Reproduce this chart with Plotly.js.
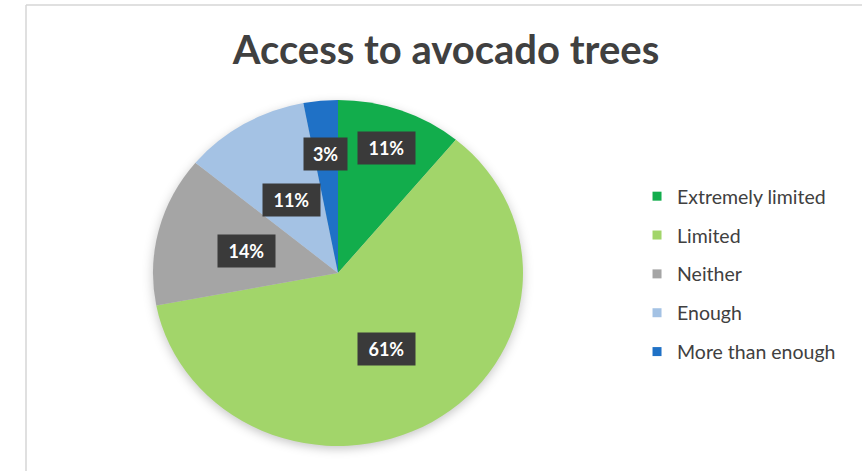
<!DOCTYPE html>
<html>
<head>
<meta charset="utf-8">
<script src="https://cdn.plot.ly/plotly-3.0.1.min.js"></script>
<style>
  html, body { margin: 0; padding: 0; background: #ffffff; }
  #chart { width: 862px; height: 471px; }
</style>
</head>
<body>
<div id="chart"></div>
<script>
// ---- data ----
const categories = ['Extremely limited', 'Limited', 'Neither', 'Enough', 'More than enough'];
const values = [11, 61, 14, 11, 3];
const percentLabels = ['11%', '61%', '14%', '11%', '3%'];
const sliceColors = ['#12AD4C', '#A2D56A', '#A5A5A5', '#A4C2E4', '#1F71C6'];

// ---- style / layout constants ----
const W = 862, H = 471;
const CX = 338, CY = 273;          // pie centre in px
const RY = 173, RX = 185;          // vertical / horizontal radius in px
const labelRadius = [0.77, 0.51, 0.51, 0.49, 0.69];  // label placement factor per slice
const font = 'Lato, "Open Sans", sans-serif';

const pieDomainX = [(CX - RY) / W, (CX + RY) / W];
const pieDomainY = [(H - CY - RY) / H, (H - CY + RY) / H];

const traces = [{
  type: 'pie',
  values: values,
  labels: categories,
  marker: { colors: sliceColors, line: { width: 0 } },
  sort: false,
  direction: 'clockwise',
  rotation: 0,
  textinfo: 'none',
  hoverinfo: 'label+percent',
  showlegend: false,
  domain: { x: pieDomainX, y: pieDomainY }
}];

// legend entries (one per category, square markers)
categories.forEach((c, i) => {
  traces.push({
    type: 'scatter', mode: 'markers',
    x: [null], y: [null],
    name: c,
    legendgroup: 'g' + i,
    marker: { symbol: 'square', size: 9, color: sliceColors[i] },
    hoverinfo: 'skip'
  });
});

// percentage labels in dark boxes
const total = values.reduce((a, b) => a + b, 0);
let cum = 0;
const annotations = values.map((v, i) => {
  const theta = 2 * Math.PI * (cum + v / 2) / total;
  cum += v;
  const px = CX + labelRadius[i] * RX * Math.sin(theta);
  const py = CY - labelRadius[i] * RY * Math.cos(theta);
  const txt = percentLabels[i];
  return {
    xref: 'paper', yref: 'paper',
    x: px / W, y: 1 - py / H,
    xanchor: 'center', yanchor: 'middle',
    text: '<b>' + txt + '</b>',
    showarrow: false,
    font: { family: font, size: 18, color: '#ffffff' },
    bgcolor: '#3A3A3A',
    borderpad: 4,
    width: 8 + 13.6 * txt.length,
    height: 24
  };
});

const layout = {
  width: W, height: H,
  margin: { l: 0, r: 0, t: 0, b: 0 },
  paper_bgcolor: '#ffffff',
  plot_bgcolor: 'rgba(0,0,0,0)',
  title: {
    text: '<b>Access to avocado trees</b>',
    font: { family: font, size: 40, color: '#404040' },
    x: 446 / W, xanchor: 'center',
    y: 1 - 50 / H, yref: 'container', yanchor: 'middle'
  },
  xaxis: { visible: false, range: [0, 1] },
  yaxis: { visible: false, range: [0, 1] },
  showlegend: true,
  legend: {
    x: 0.739, xanchor: 'left',
    y: 1 - 177 / H, yanchor: 'top',
    traceorder: 'grouped',
    tracegroupgap: 10.5,
    font: { family: font, size: 19.5, color: '#404040' },
    bgcolor: 'rgba(0,0,0,0)',
    itemclick: false, itemdoubleclick: false
  },
  annotations: annotations,
  shapes: [
    { type: 'line', xref: 'paper', yref: 'paper', x0: 26 / W, x1: 26 / W, y0: 0, y1: 1 - 5 / H,
      line: { color: '#D6D6D6', width: 1.5 } },
    { type: 'line', xref: 'paper', yref: 'paper', x0: 26 / W, x1: 1, y0: 1 - 5 / H, y1: 1 - 5 / H,
      line: { color: '#D6D6D6', width: 1.5 } }
  ]
};

Plotly.newPlot('chart', traces, layout, { displayModeBar: false, staticPlot: true }).then(gd => {
  // Stretch pie slightly horizontally to match the reference's ellipse
  const pl = gd.querySelector('.pielayer');
  if (pl) {
    const s = RX / RY;
    pl.setAttribute('transform', 'matrix(' + s + ',0,0,1,' + (-CX * (s - 1)) + ',0)');
    pl.style.filter = 'drop-shadow(0px 3px 5px rgba(0,0,0,0.22))';
  }
});
</script>
</body>
</html>
